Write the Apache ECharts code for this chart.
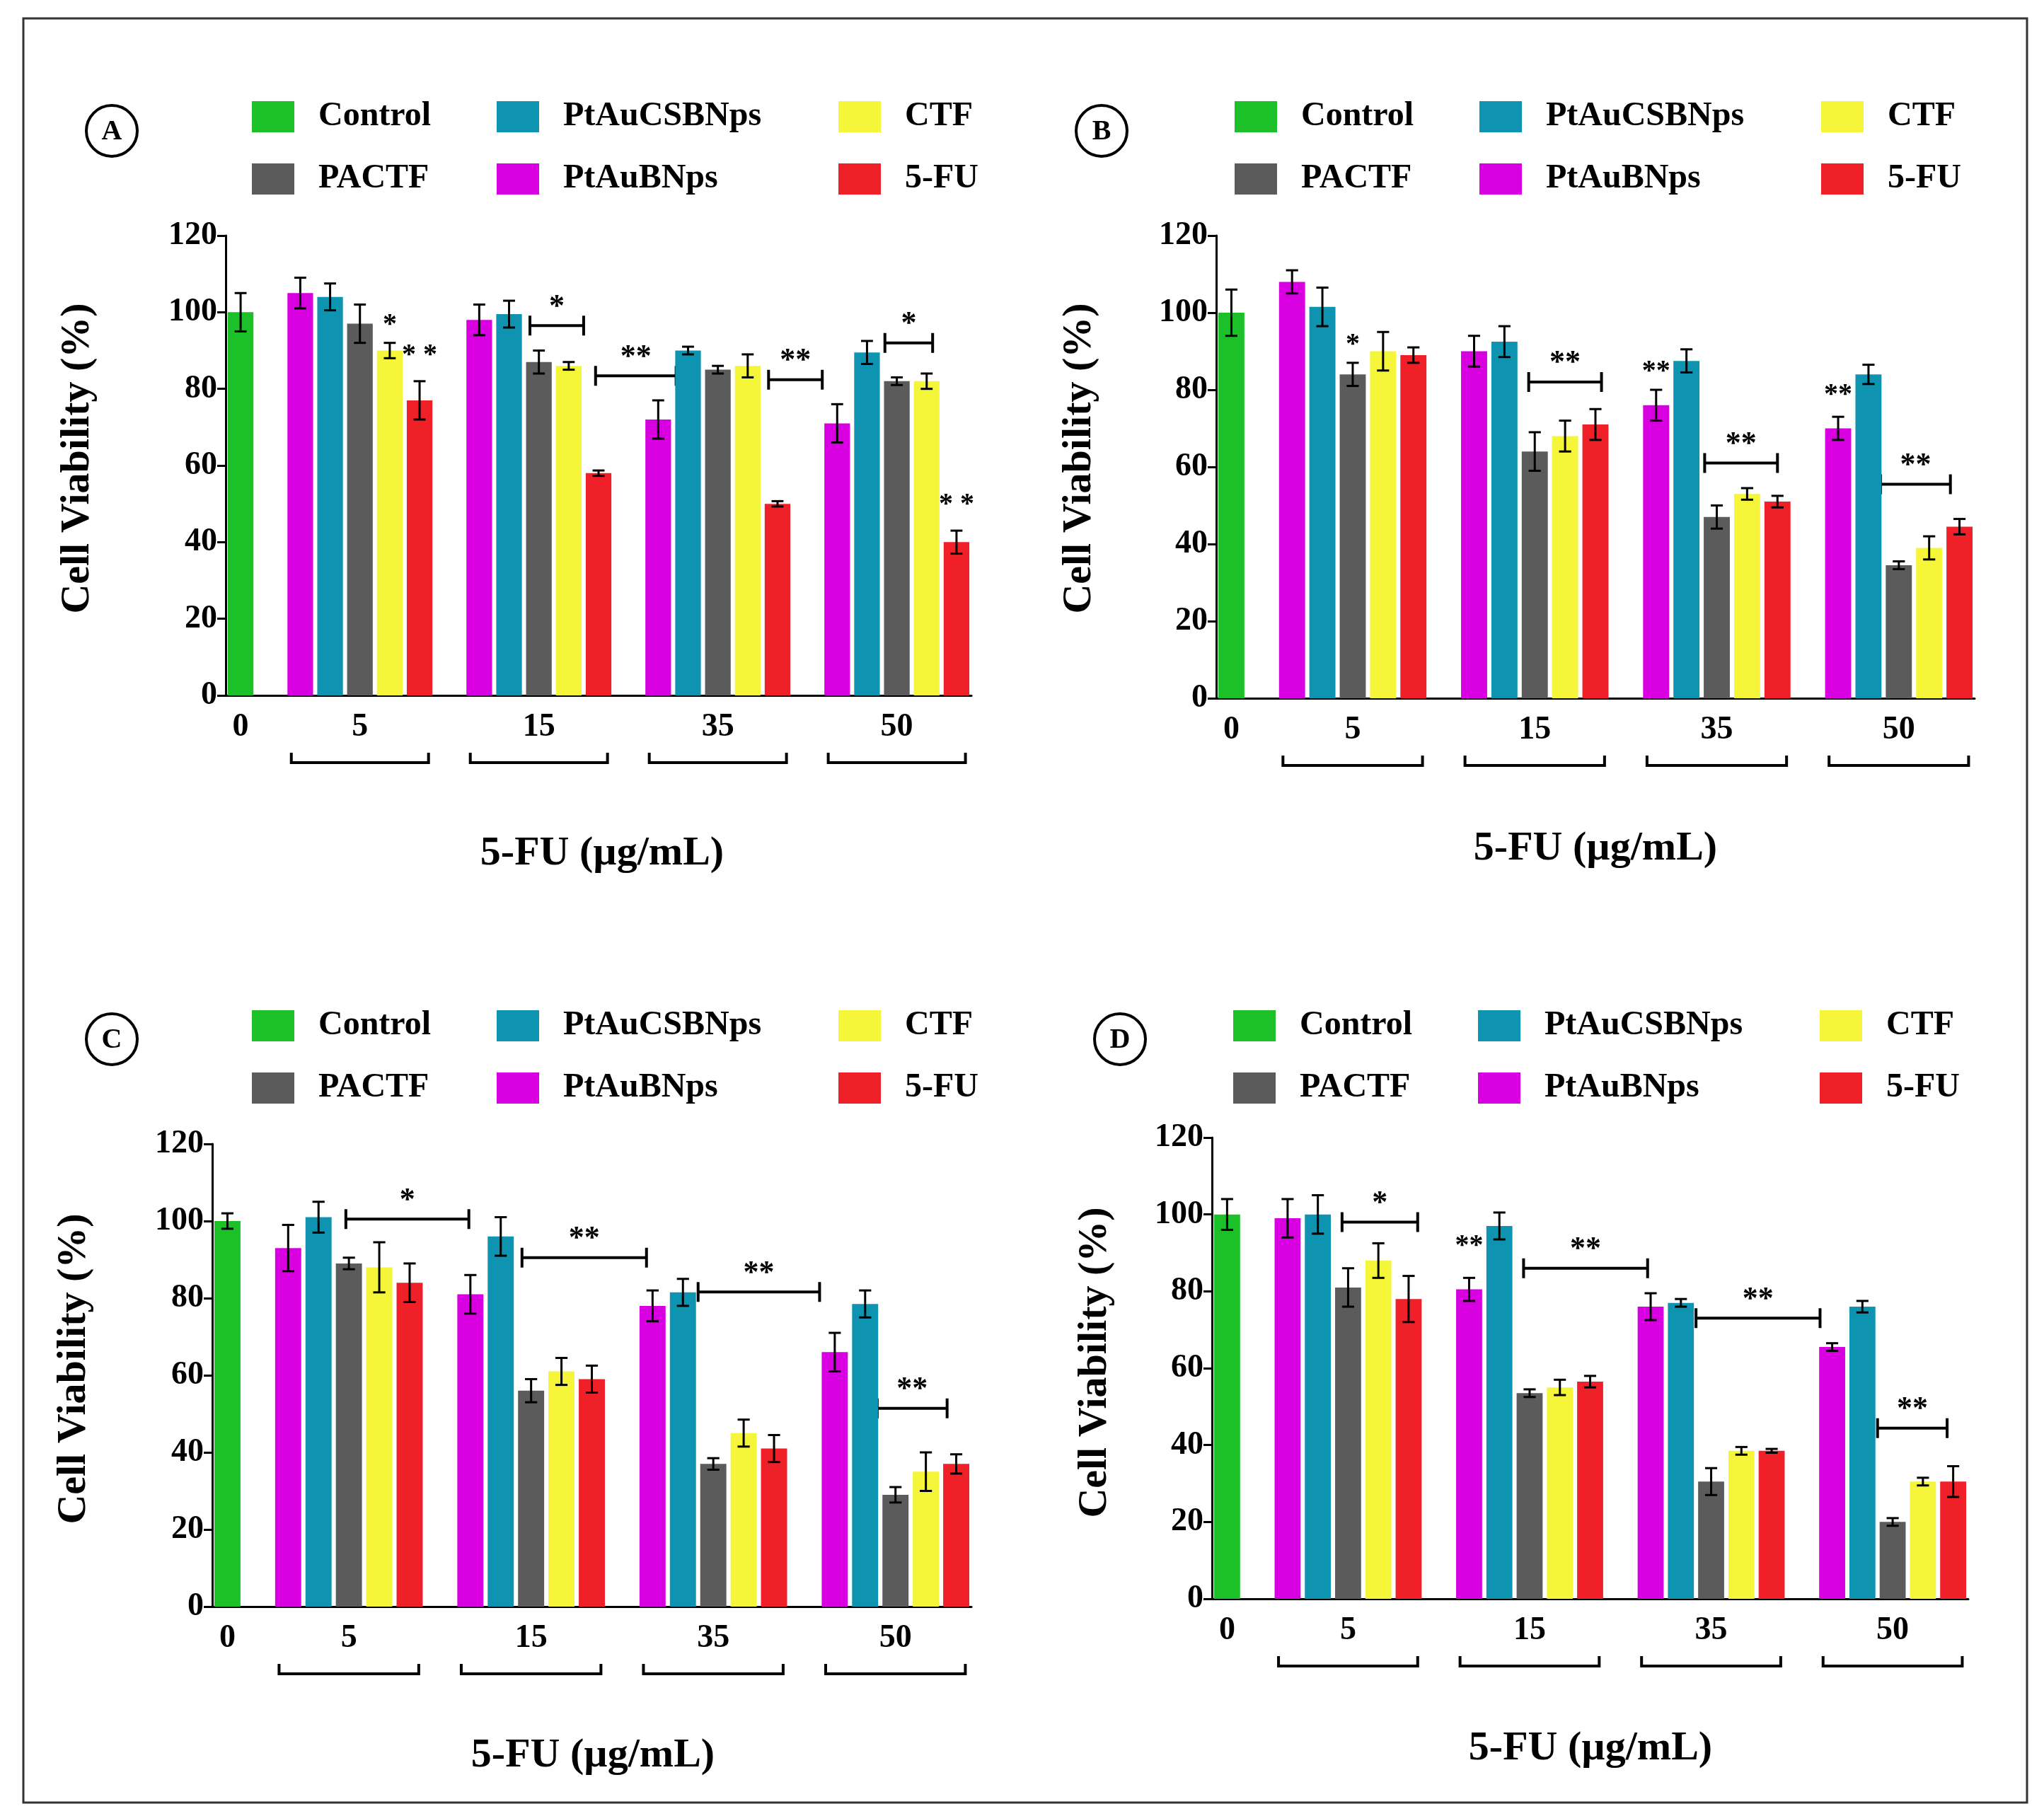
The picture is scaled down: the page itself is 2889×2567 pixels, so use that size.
<!DOCTYPE html>
<html>
<head>
<meta charset="utf-8">
<script src="https://cdn.jsdelivr.net/npm/echarts@6/dist/echarts.min.js"></script>
<style>html,body{margin:0;padding:0;background:#fff}#c{width:2889px;height:2567px}</style>
</head>
<body>
<div id="c"></div>
<script>
// series order inside each dose group
const seriesNames = ['PtAuBNps', 'PtAuCSBNps', 'PACTF', 'CTF', '5-FU'];
const seriesColors = ['#d800e0', '#0e93b0', '#5b5b5b', '#f5f53a', '#f02028'];
const controlColor = '#1cc12a';
const doseLabels = ['0', '5', '15', '35', '50'];
const yTicks = [0, 20, 40, 60, 80, 100, 120];

// control [mean, err]
const ctrlA = [100, 5], ctrlB = [100, 6], ctrlC = [100, 2], ctrlD = [100, 4];

// rows: dose 5, 15, 35, 50 ; cols: seriesNames order
const meanA = [[105, 104, 97, 90, 77], [98, 99.5, 87, 86, 58], [72, 90, 85, 86, 50], [71, 89.5, 82, 82, 40]];
const errA  = [[4, 3.5, 5, 2, 5], [4, 3.5, 3, 1, 0.7], [5, 1, 1, 3, 0.7], [5, 3, 1, 2, 3]];
const meanB = [[108, 101.5, 84, 90, 89], [90, 92.5, 64, 68, 71], [76, 87.5, 47, 53, 51], [70, 84, 34.5, 39, 44.5]];
const errB  = [[3, 5, 3, 5, 2], [4, 4, 5, 4, 4], [4, 3, 3, 1.5, 1.5], [3, 2.5, 1, 3, 2]];
const meanC = [[93, 101, 89, 88, 84], [81, 96, 56, 61, 59], [78, 81.5, 37, 45, 41], [66, 78.5, 29, 35, 37]];
const errC  = [[6, 4, 1.5, 6.5, 5], [5, 5, 3, 3.5, 3.5], [4, 3.5, 1.5, 3.5, 3.5], [5, 3.5, 2, 5, 2.5]];
const meanD = [[99, 100, 81, 88, 78], [80.5, 97, 53.5, 55, 56.5], [76, 77, 30.5, 38.5, 38.5], [65.5, 76, 20, 30.5, 30.5]];
const errD  = [[5, 5, 5, 4.5, 6], [3, 3.5, 1, 2, 1.5], [3.5, 1, 3.5, 1, 0.5], [1, 1.5, 1, 1, 4]];

// significance: [slot, value, text] and brackets [fromSlot, toSlot, value, text]
const starsA = [[5, 93, '*'], [6, 85, '* *'], [24, 46, '* *']];
const bracketsA = [[9.7, 11.5, 96.5, '*'], [11.9, 14.6, 83.4, '**'], [17.7, 19.5, 82.4, '**'], [21.6, 23.2, 92, '*']];
const starsB = [[4, 88, '*'], [14, 81, '**'], [20, 75, '**']];
const bracketsB = [[9.8, 12.2, 82, '**'], [15.6, 18, 61, '**'], [21.4, 23.7, 55.5, '**']];
const starsC = [];
const bracketsC = [[3.9, 7.95, 100.5, '*'], [9.7, 13.8, 90.5, '**'], [15.5, 19.5, 81.6, '**'], [21.4, 23.7, 51.4, '**']];
const starsD = [[8, 88, '**']];
const bracketsD = [[3.8, 6.3, 98, '*'], [9.8, 13.9, 86, '**'], [15.5, 19.6, 73, '**'], [21.5, 23.8, 44.4, '**']];

const panels = [
  { tag: 'A', ctrl: ctrlA, mean: meanA, err: errA, stars: starsA, brackets: bracketsA,
    grid: { left: 319, top: 333, width: 1054, height: 650 }, legX: 356, legY: 165, circ: [158, 185], yt: [110, 648], xt: [851, 1207] },
  { tag: 'B', ctrl: ctrlB, mean: meanB, err: errB, stars: starsB, brackets: bracketsB,
    grid: { left: 1719, top: 333, width: 1072, height: 654 }, legX: 1745, legY: 165, circ: [1557, 185], yt: [1526, 648], xt: [2255, 1200] },
  { tag: 'C', ctrl: ctrlC, mean: meanC, err: errC, stars: starsC, brackets: bracketsC,
    grid: { left: 300, top: 1617, width: 1073, height: 654 }, legX: 356, legY: 1450, circ: [158, 1469], yt: [105, 1935], xt: [838, 2482] },
  { tag: 'D', ctrl: ctrlD, mean: meanD, err: errD, stars: starsD, brackets: bracketsD,
    grid: { left: 1713, top: 1608, width: 1069, height: 652 }, legX: 1743, legY: 1450, circ: [1583, 1469], yt: [1548, 1926], xt: [2248, 2472] },
];

const NSLOT = 25;
const groupStart = g => 2 + 6 * g;
const labelSlots = { 0: doseLabels[0], 4: doseLabels[1], 10: doseLabels[2], 16: doseLabels[3], 22: doseLabels[4] };
const FONT = '"Liberation Serif", "DejaVu Serif", serif';

const chart = echarts.init(document.getElementById('c'));

const grids = [], xAxes = [], yAxes = [], series = [];
panels.forEach((p, pi) => {
  grids.push(p.grid);
  xAxes.push({
    type: 'category', gridIndex: pi, data: Array.from({ length: NSLOT }, (_, i) => String(i)),
    axisLine: { lineStyle: { color: '#000', width: 3 } }, axisTick: { show: false },
    axisLabel: { interval: 0, margin: 22, fontFamily: FONT, fontWeight: 'bold', fontSize: 46, color: '#000',
      formatter: (v, i) => labelSlots[i] || '' },
  });
  yAxes.push({
    type: 'value', gridIndex: pi, min: yTicks[0], max: yTicks[yTicks.length - 1], interval: 20,
    splitLine: { show: false },
    axisLine: { show: true, lineStyle: { color: '#000', width: 3 } },
    axisTick: { show: true, length: 12, lineStyle: { color: '#000', width: 3 } },
    axisLabel: { fontFamily: FONT, fontWeight: 'bold', fontSize: 46, color: '#000', margin: 12 },
  });
  const ctrlData = new Array(NSLOT).fill(null);
  ctrlData[0] = p.ctrl[0];
  const errData = [[0, p.ctrl[0], p.ctrl[1]]];
  series.push({ type: 'bar', xAxisIndex: pi, yAxisIndex: pi, data: ctrlData, barWidth: '86%', barGap: '-100%',
    itemStyle: { color: controlColor }, animation: false });
  seriesNames.forEach((name, k) => {
    const d = new Array(NSLOT).fill(null);
    p.mean.forEach((row, g) => {
      d[groupStart(g) + k] = row[k];
      errData.push([groupStart(g) + k, row[k], p.err[g][k]]);
    });
    series.push({ type: 'bar', name, xAxisIndex: pi, yAxisIndex: pi, data: d, barWidth: '86%', barGap: '-100%',
      itemStyle: { color: seriesColors[k] }, animation: false });
  });
  series.push({
    type: 'custom', xAxisIndex: pi, yAxisIndex: pi, data: errData, z: 10, animation: false,
    renderItem: (params, api) => {
      const x = api.value(0), m = api.value(1), e = api.value(2);
      const t = api.coord([x, m + e]), b = api.coord([x, m - e]);
      const hw = api.size([1, 0])[0] * 0.2;
      const st = { stroke: '#000', lineWidth: 3 };
      return { type: 'group', children: [
        { type: 'line', shape: { x1: t[0], y1: t[1], x2: b[0], y2: b[1] }, style: st },
        { type: 'line', shape: { x1: t[0] - hw, y1: t[1], x2: t[0] + hw, y2: t[1] }, style: st },
        { type: 'line', shape: { x1: b[0] - hw, y1: b[1], x2: b[0] + hw, y2: b[1] }, style: st },
      ] };
    },
  });
});

chart.setOption({ animation: false, grid: grids, xAxis: xAxes, yAxis: yAxes, series });

// annotations, legends and titles placed from the axes
const g = [{ type: 'rect', shape: { x: 33, y: 26, width: 2832, height: 2522 }, style: { fill: null, stroke: '#333', lineWidth: 3 } }];
const lineSt = { stroke: '#000', lineWidth: 4 };
const legendRows = [[['Control', controlColor], ['PtAuCSBNps', seriesColors[1]], ['CTF', seriesColors[3]]],
                    [['PACTF', seriesColors[2]], ['PtAuBNps', seriesColors[0]], ['5-FU', seriesColors[4]]]];
const legendCols = [0, 346, 829];

panels.forEach((p, pi) => {
  const p0 = chart.convertToPixel({ gridIndex: pi }, [0, 0]);
  const p1 = chart.convertToPixel({ gridIndex: pi }, [1, 0]);
  const w = p1[0] - p0[0];
  const sx = s => p0[0] + s * w;
  const sy = v => chart.convertToPixel({ yAxisIndex: pi }, v);
  const base = p0[1];

  // group brackets under the axis
  for (let k = 0; k < 4; k++) {
    const x1 = sx(groupStart(k) - 0.3), x2 = sx(groupStart(k) + 4.3), y = base + 95;
    g.push({ type: 'polyline', shape: { points: [[x1, y - 14], [x1, y], [x2, y], [x2, y - 14]] }, style: { fill: null, ...lineSt } });
  }
  p.brackets.forEach(([a, b, v, t]) => {
    const y = sy(v), x1 = sx(a), x2 = sx(b);
    g.push({ type: 'polyline', shape: { points: [[x1, y + 14], [x1, y - 14], [x1, y], [x2, y], [x2, y - 14], [x2, y + 14]] }, style: { fill: null, ...lineSt } });
    g.push({ type: 'text', x: (x1 + x2) / 2, y: y - 4, style: { text: t, font: 'bold 44px ' + FONT, fill: '#000', align: 'center', verticalAlign: 'bottom' } });
  });
  p.stars.forEach(([s, v, t]) => {
    g.push({ type: 'text', x: sx(s), y: sy(v), style: { text: t, font: 'bold 40px ' + FONT, fill: '#000', align: 'center', verticalAlign: 'bottom' } });
  });

  // legend
  legendRows.forEach((row, r) => {
    row.forEach(([name, col], c) => {
      const x = p.legX + legendCols[c], y = p.legY + r * 88;
      g.push({ type: 'rect', shape: { x, y: y - 22, width: 60, height: 44 }, style: { fill: col } });
      g.push({ type: 'text', x: x + 94, y, style: { text: name, font: 'bold 48px ' + FONT, fill: '#000', verticalAlign: 'middle' } });
    });
  });

  g.push({ type: 'circle', shape: { cx: p.circ[0], cy: p.circ[1], r: 36 }, style: { fill: '#fff', stroke: '#000', lineWidth: 4 } });
  g.push({ type: 'text', x: p.circ[0], y: p.circ[1] + 2, style: { text: p.tag, font: 'bold 40px ' + FONT, fill: '#000', align: 'center', verticalAlign: 'middle' } });
  g.push({ type: 'text', x: p.yt[0], y: p.yt[1], rotation: Math.PI / 2,
    style: { text: 'Cell Viability (%)', font: 'bold 58px ' + FONT, fill: '#000', align: 'center', verticalAlign: 'middle' } });
  g.push({ type: 'text', x: p.xt[0], y: p.xt[1], style: { text: '5-FU (µg/mL)', font: 'bold 58px ' + FONT, fill: '#000', align: 'center', verticalAlign: 'middle' } });
});

chart.setOption({ graphic: { elements: g } });
</script>
</body>
</html>
